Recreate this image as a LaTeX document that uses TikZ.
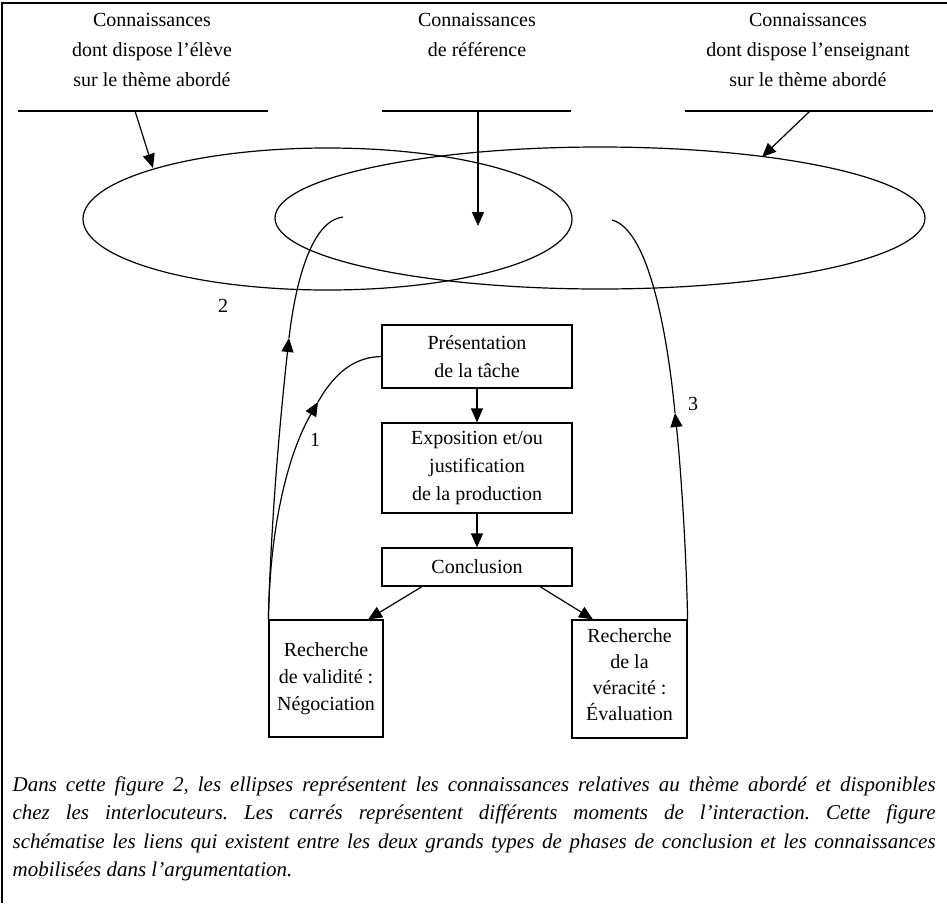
\documentclass[tikz,border=0pt]{standalone}
\usepackage{fontspec}
\setmainfont{Liberation Serif}
\usetikzlibrary{arrows.meta,shapes.geometric}
\begin{document}
\begin{tikzpicture}[x=1pt,y=-1pt, line width=1.2pt,
  tip/.style={-{Triangle[length=14pt,width=12pt]}},
  lbl/.style={font=\fontsize{20}{30}\selectfont, align=center, inner sep=0pt},
  num/.style={font=\fontsize{20}{24}\selectfont, inner sep=0pt},
  stage/.style={draw, line width=1.2pt, font=\fontsize{20}{28}\selectfont, align=center, inner sep=0pt},
  oval/.style={draw, ellipse, inner sep=0pt, outer sep=0pt, line width=1.2pt}
  ]
\useasboundingbox (0,0) rectangle (947,903);
% frame (left and top edges)
\coordinate (fbl) at (2,903);
\coordinate (ftl) at (2,3);
\coordinate (ftr) at (947,3);
\draw (fbl) -- (ftl) -- (ftr);

% top labels
\node[lbl] (eleve) at (152,50) {Connaissances\\dont dispose l'élève\\sur le thème abordé};
\node[lbl] (ref) at (477,35) {Connaissances\\de référence};
\node[lbl] (ens) at (808,50) {Connaissances\\dont dispose l'enseignant\\sur le thème abordé};
\coordinate (l1a) at (18,111);  \coordinate (l1b) at (268,111);
\coordinate (l2a) at (382,111); \coordinate (l2b) at (571,111);
\coordinate (l3a) at (685,111); \coordinate (l3b) at (933,111);
\draw (l1a) -- (l1b);
\draw (l2a) -- (l2b);
\draw (l3a) -- (l3b);

% ellipses
\node[oval, minimum width=489pt, minimum height=142pt] (E1) at (327.5,219) {};
\node[oval, minimum width=650pt, minimum height=142pt] (E2) at (600,218) {};

% arrows from labels to ellipses
\coordinate (a1s) at (135,111); \coordinate (a1e) at (153,168);
\coordinate (a2s) at (478,111); \coordinate (a2e) at (478,226);
\coordinate (a3s) at (810,111); \coordinate (a3e) at (762,157);
\draw[tip] (a1s) -- (a1e);
\draw[tip] (a2s) -- (a2e);
\draw[tip] (a3s) -- (a3e);

% stage boxes
\node[stage, minimum width=190pt, minimum height=63pt] (pres) at (477,356.5) {Présentation\\de la tâche};
\node[stage, minimum width=190pt, minimum height=90pt] (expo) at (477,468) {Exposition et/ou\\justification\\de la production};
\node[stage, minimum width=190pt, minimum height=38pt] (concl) at (477,567) {Conclusion};
\node[stage, minimum width=114pt, minimum height=117pt, font=\fontsize{20}{27}\selectfont] (valid) at (326,678.5) {Recherche\\de validité :\\Négociation};
\node[stage, minimum width=115pt, minimum height=118pt, font=\fontsize{20}{26}\selectfont] (verac) at (629.5,679) {Recherche\\de la\\véracité :\\Évaluation\vspace{8pt}};

\draw[tip] (pres) -- (expo);
\draw[tip] (expo) -- (concl);
\draw[tip] ([xshift=-55pt]concl.south) -- ([xshift=42pt]valid.north);
\draw[tip] ([xshift=63pt]concl.south) -- ([xshift=-36.5pt]verac.north);

% curve 2
\coordinate (m2) at (289,338);
\coordinate (e2) at (343,217);
\draw[tip] (valid.north west) .. controls (271,520) and (280,420) .. (m2);
\draw (m2) .. controls (297,270) and (315,220) .. (e2);
% curve 1
\coordinate (m1) at (318,402);
\draw[tip] (valid.north west) .. controls (270,520) and (290,450) .. (m1);
\draw (m1) .. controls (335,372) and (355,357) .. (pres.west);
% curve 3
\coordinate (m3) at (675,413);
\coordinate (e3) at (612,220);
\draw[tip] (verac.north east) .. controls (686,540) and (680,460) .. (m3);
\draw (m3) .. controls (668,340) and (650,230) .. (e3);

% numbers
\node[num] (n1) at (315,440) {1};
\node[num] (n2) at (223,306) {2};
\node[num] (n3) at (693,404) {3};

% caption
\node[anchor=base west, inner sep=0pt, font=\fontsize{21}{28.5}\selectfont\itshape] (cap) at (12,791) {\parbox[t]{923pt}{\frenchspacing%
\makebox[923pt][s]{Dans cette figure 2, les ellipses représentent les connaissances relatives au thème abordé et disponibles}\\
\makebox[923pt][s]{chez les interlocuteurs. Les carrés représentent différents moments de l'interaction. Cette figure}\\
\makebox[923pt][s]{schématise les liens qui existent entre les deux grands types de phases de conclusion et les connaissances}\\
mobilisées dans l'argumentation.}};
\end{tikzpicture}
\end{document}
